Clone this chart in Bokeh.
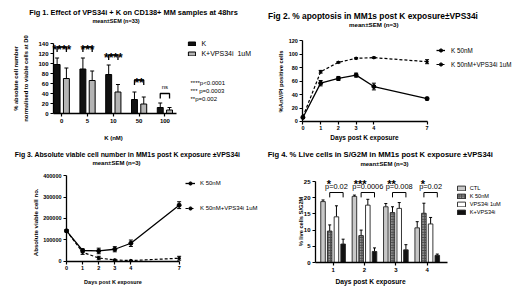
import numpy as np
from math import pi
from bokeh.plotting import figure
from bokeh.models import (Range1d, Label, Whisker, TeeHead, ColumnDataSource, FixedTicker,
                          Legend, LegendItem, BasicTickFormatter)
from bokeh.layouts import gridplot
from bokeh.embed import file_html
from bokeh.resources import INLINE

FONT = "Liberation Sans"

# ---------------- Fig 1 data ----------------
f1_doses = ["0", "5", "10", "50", "100"]
f1_k = [98, 89, 78, 28, 12]
f1_k_err = [13, 22, 19, 15, 9]
f1_kv = [70, 66, 43, 19, 7]
f1_kv_err = [21, 19, 15, 14, 5]
f1_sig = ["****", "***", "****", "**", "ns"]
f1_bracket = [133, 133, 117, 67, 40]
f1_pvals = ["****p<0.0001", "*** p=0.0003", "**p=0.002"]
f1_yticks = [0, 20, 40, 60, 80, 100, 120, 140]

# ---------------- Fig 2 data ----------------
f2_days = [0, 1, 2, 3, 4, 7]
f2_k = [6, 57, 64, 69, 52, 34]
f2_k_err = [1, 4, 3, 3, 5, 2]
f2_kv = [7, 74, 88, 94, 95, 89]
f2_kv_err = [1, 2, 1, 1, 1, 3]
f2_yticks = [0, 20, 40, 60, 80, 100, 120]

# ---------------- Fig 3 data ----------------
f3_days = [0, 1, 2, 3, 4, 7]
f3_k = [142000, 50000, 48000, 56000, 84000, 262000]
f3_k_err = [5000, 8000, 13000, 12000, 15000, 16000]
f3_kv = [142000, 42000, 15000, 6000, 3000, 14000]
f3_kv_err = [5000, 10000, 8000, 3000, 2000, 9000]
f3_yticks = [0, 100000, 200000, 300000, 400000]

# ---------------- Fig 4 data ----------------
f4_days = ["1", "2", "3", "4"]
f4_names = ["CTL", "K 50nM", "VPS34i 1uM", "K+VPS34i"]
f4_ctl = [18.8, 20.4, 17.2, 10.7]
f4_ctl_err = [0.5, 0.4, 1.0, 1.9]
f4_k = [9.7, 8.3, 15.4, 15.2]
f4_k_err = [1.9, 1.7, 1.8, 3.1]
f4_v = [14.1, 17.7, 16.7, 11.9]
f4_v_err = [3.4, 1.8, 1.8, 2.0]
f4_kv = [5.7, 3.4, 3.9, 2.2]
f4_kv_err = [1.5, 1.1, 1.6, 0.4]
f4_sig = ["*", "***", "**", "*"]
f4_p = ["p=0.02", "p=0.0006", "p=0.008", "p=0.02"]
f4_bracket = [21.6, 21.6, 21.6, 21.6]
f4_yticks = [0, 5, 10, 15, 20, 25]

W, H = 260, 146


class Geo:
    """Maps page pixels to data values; the plot frame fills the whole figure."""
    def __init__(self, ox, oy, pl, pt, fw, fh, xr, yr):
        self.ox, self.oy = ox, oy
        self.fl, self.ft, self.fw, self.fh, self.xr, self.yr = pl, pt, fw, fh, xr, yr

    def x(self, px):
        return self.xr[0] + (px - self.fl) / self.fw * (self.xr[1] - self.xr[0])

    def y(self, py):
        return self.yr[1] - (py - self.ft) / self.fh * (self.yr[1] - self.yr[0])

    def legend_loc(self, left, top, height):
        return (left - self.ox, (self.oy + H) - (top + height))


def make(ox, oy, pl, pt, fw, fh, xr, yr):
    g = Geo(ox, oy, pl, pt, fw, fh, xr, yr)
    p = figure(width=W, height=H,
               x_range=Range1d(g.x(ox), g.x(ox + W)),
               y_range=Range1d(g.y(oy + H), g.y(oy)),
               output_backend="svg", toolbar_location=None, title=None,
               min_border=0, min_border_left=0, min_border_top=0,
               min_border_right=0, min_border_bottom=0)
    p.outline_line_color = None
    p.xgrid.visible = False
    p.ygrid.visible = False
    p.background_fill_color = "white"
    p.border_fill_color = "white"
    return p, g


def style_axes(p, size, xticks, yticks, xloc, yloc, xb, yb, overrides=None):
    for ax in (p.xaxis[0], p.yaxis[0]):
        ax.axis_line_width = 1.3
        ax.axis_line_color = "black"
        ax.major_tick_line_width = 1.2
        ax.major_tick_line_color = "black"
        ax.major_tick_in = 0
        ax.major_tick_out = 3
        ax.minor_tick_line_color = None
        ax.major_label_text_font = FONT
        ax.major_label_text_font_size = f"{size}px"
        ax.major_label_text_font_style = "bold"
        ax.major_label_text_color = "black"
        ax.major_label_standoff = 2
    p.xaxis[0].ticker = FixedTicker(ticks=xticks)
    p.yaxis[0].ticker = FixedTicker(ticks=yticks)
    p.xaxis[0].fixed_location = xloc
    p.yaxis[0].fixed_location = yloc
    p.xaxis[0].bounds = xb
    p.yaxis[0].bounds = yb
    if overrides:
        p.xaxis[0].major_label_overrides = overrides


def txt(p, g, px, py, s, size, bold=False, align="center", angle=0.0):
    p.add_layout(Label(x=g.x(px), y=g.y(py), text=s, text_font=FONT,
                       text_font_size=f"{size}px",
                       text_font_style="bold" if bold else "normal",
                       text_align=align, text_baseline="middle", angle=angle,
                       text_color="black"))


def dlabel(p, x, y, s, size, bold=False):
    p.add_layout(Label(x=x, y=y, text=s, text_font=FONT, text_font_size=f"{size}px",
                       text_font_style="bold" if bold else "normal",
                       text_align="center", text_baseline="middle", text_color="black"))


def star(p, x, y, s, size):
    p.add_layout(Label(x=x, y=y, text=s, text_font=FONT, text_font_size=f"{size}px",
                       text_font_style="bold", text_align="center",
                       text_baseline="alphabetic", y_offset=-0.56 * size,
                       text_color="black"))


def whisk(p, base, val, err, both=False, head=4):
    lower = [v - e for v, e in zip(val, err)] if both else list(val)
    upper = [v + e for v, e in zip(val, err)]
    src = ColumnDataSource(dict(base=list(base), lower=lower, upper=upper))
    w = Whisker(source=src, base="base", lower="lower", upper="upper",
                line_color="black", line_width=1,
                upper_head=TeeHead(size=head, line_width=1, line_color="black"),
                lower_head=TeeHead(size=head, line_width=1, line_color="black") if both else None)
    p.add_layout(w)


def legend(p, items, loc, gw, gh, lh, spacing, standoff, size):
    lg = Legend(items=items, location=loc, padding=0, margin=0, spacing=spacing,
                glyph_width=gw, glyph_height=gh, label_height=lh,
                label_standoff=standoff, label_text_font=FONT,
                label_text_font_size=f"{size}px", label_text_color="black",
                border_line_color=None, background_fill_alpha=0)
    p.add_layout(lg)


# =============== Fig 1 ===============
f1_xr, f1_yr = (-0.32, 4.45), (0, 150)
p1, g1 = make(0, 0, 53, 38, 123, 75, f1_xr, f1_yr)
x1 = np.arange(len(f1_doses))
xk = x1 - 0.18
xv = x1 + 0.18
r1a = p1.vbar(x=xk, top=f1_k, width=0.23, fill_color="#111111", line_color="black", line_width=1)
r1b = p1.vbar(x=xv, top=f1_kv, width=0.23, fill_color="#b4b4b4", line_color="black", line_width=1)
whisk(p1, xk, f1_k, f1_k_err)
whisk(p1, xv, f1_kv, f1_kv_err)
p1.multi_line(xs=[[a, a, b, b] for a, b in zip(xk, xv)],
              ys=[[h - 10, h, h, h - 10] for h in f1_bracket],
              line_color="black", line_width=1.3)
for i, (s, h) in enumerate(zip(f1_sig, f1_bracket)):
    if s == "ns":
        dlabel(p1, x1[i], h + 13, s, 6)
    else:
        star(p1, x1[i], h + 8, s, 12)
style_axes(p1, 6, list(x1), f1_yticks, 0, f1_xr[0], f1_xr, (0, 140),
           {int(i): d for i, d in zip(x1, f1_doses)})
txt(p1, g1, 133, 12, "Fig 1. Effect of VPS34i + K on CD138+ MM samples at 48hrs", 7.4, True)
txt(p1, g1, 115.5, 20.7, "mean\u00b1SEM (n=33)", 5.5, True)
txt(p1, g1, 15.7, 78, "% absolute cell number", 5.8, True, angle=pi / 2)
txt(p1, g1, 25, 78, "normalised to viable cells at D0", 5.8, True, angle=pi / 2)
txt(p1, g1, 113, 137, "K (nM)", 6, True)
for j, s in enumerate(f1_pvals):
    txt(p1, g1, 190, 82.7 + 8 * j, s, 6, False, align="left")
legend(p1, [LegendItem(label="K", renderers=[r1a]), LegendItem(label="K+VPS34i  1uM", renderers=[r1b])],
       g1.legend_loc(187.4, 39.3, 18), 9, 5, 8, 2, 5, 7)

# =============== Fig 2 ===============
p2, g2 = make(260, 0, 298, 39, 133, 86, (-0.25, 7.25), (-6, 122))
l2a = p2.line(f2_days, f2_k, line_color="black", line_width=1.3)
s2a = p2.scatter(f2_days, f2_k, marker="circle", size=4, color="black")
l2b = p2.line(f2_days, f2_kv, line_color="black", line_width=1.2, line_dash="3 2")
s2b = p2.scatter(f2_days, f2_kv, marker="circle", size=2.5, color="black")
whisk(p2, f2_days, f2_k, f2_k_err, both=True)
whisk(p2, f2_days, f2_kv, f2_kv_err, both=True)
style_axes(p2, 5.5, f2_days, f2_yticks, 0, 0, (0, 7), (0, 120))
txt(p2, g2, 372.5, 15, "Fig 2. % apoptosis in MM1s post K exposure\u00b1VPS34i", 8.4, True)
txt(p2, g2, 373.3, 24, "mean\u00b1SEM (n=3)", 6.2, True)
txt(p2, g2, 280, 81, "%AnV/PI positive cells", 5.8, True, angle=pi / 2)
txt(p2, g2, 364, 136.7, "Days post K exposure", 6.5, True)
legend(p2, [LegendItem(label="K 50nM", renderers=[l2a, s2a]),
            LegendItem(label="K 50nM+VPS34i 1uM", renderers=[l2b, s2b])],
       g2.legend_loc(436, 46, 22), 9, 8, 8, 6, 6, 6.3)

# =============== Fig 3 ===============
p3, g3 = make(0, 146, 62, 173, 121, 92, (-0.25, 7.27), (-20000, 410000))
l3a = p3.line(f3_days, f3_k, line_color="black", line_width=1.3)
s3a = p3.scatter(f3_days, f3_k, marker="circle", size=4, color="black")
l3b = p3.line(f3_days, f3_kv, line_color="black", line_width=1.2, line_dash="3 2")
s3b = p3.scatter(f3_days, f3_kv, marker="circle", size=2.5, color="black")
whisk(p3, f3_days, f3_k, f3_k_err, both=True)
whisk(p3, f3_days, f3_kv, f3_kv_err, both=True)
style_axes(p3, 5.5, f3_days, f3_yticks, 0, 0, (0, 7), (0, 400000))
p3.yaxis[0].formatter = BasicTickFormatter(use_scientific=False)
txt(p3, g3, 127, 154.3, "Fig 3. Absolute viable cell number in MM1s post K exposure \u00b1VPS34i", 6.9, True)
txt(p3, g3, 116, 162.7, "mean\u00b1SEM (n=3)", 6.0, True)
txt(p3, g3, 35, 221.8, "Absolute viable cell no.", 6.1, True, angle=pi / 2)
txt(p3, g3, 112.5, 281, "Days post K exposure", 5.5, True)
legend(p3, [LegendItem(label="K 50nM", renderers=[l3a, s3a]),
            LegendItem(label="K 50nM+VPS34i 1uM", renderers=[l3b, s3b])],
       g3.legend_loc(185, 179.3, 33), 10, 8, 8, 17, 5, 6)

# =============== Fig 4 ===============
f4_xr, f4_yr = (0.44, 4.645), (0, 25)
p4, g4 = make(260, 146, 315, 181, 132, 81, f4_xr, f4_yr)
x4 = np.arange(1, len(f4_days) + 1)
offs = [-0.32, -0.107, 0.107, 0.32]
bw = 0.145
styles = [dict(fill_color="#c8c8c8"),
          dict(fill_color="#4a4a4a", hatch_pattern="dot", hatch_color="white", hatch_scale=2.6, hatch_weight=1.3),
          dict(fill_color="white"),
          dict(fill_color="#111111")]
vals = [f4_ctl, f4_k, f4_v, f4_kv]
errs = [f4_ctl_err, f4_k_err, f4_v_err, f4_kv_err]
rs4 = []
for o, st, v, e in zip(offs, styles, vals, errs):
    r = p4.vbar(x=x4 + o, top=v, width=bw, line_color="#222222", line_width=0.9, **st)
    rs4.append(r)
    whisk(p4, x4 + o, v, e, head=3)
xb0 = x4 + offs[1]
xb1 = x4 + offs[3]
p4.multi_line(xs=[[a, a, b, b] for a, b in zip(xb0, xb1)],
              ys=[[h - 1.5, h, h, h - 1.5] for h in f4_bracket],
              line_color="black", line_width=1)
for i in range(len(f4_days)):
    dlabel(p4, (xb0[i] + xb1[i]) / 2, f4_bracket[i] + 1.9, f4_p[i], 7.4)
    star(p4, xb0[i] - 0.03, g4.y(177.3), f4_sig[i], 11)
style_axes(p4, 6, list(x4), f4_yticks, 0, f4_xr[0], f4_xr, (0, 25),
           {int(i): d for i, d in zip(x4, f4_days)})
txt(p4, g4, 379.8, 154.3, "Fig 4. % Live cells in S/G2M in MM1s post K exposure \u00b1VPS34i", 7.6, True)
txt(p4, g4, 384, 163.3, "mean\u00b1SEM (n=3)", 6.0, True)
txt(p4, g4, 300, 221, "% live cells S/G2M", 5.7, True, angle=pi / 2)
txt(p4, g4, 370, 281, "Days post K exposure", 6.7, True)
legend(p4, [LegendItem(label=n, renderers=[r]) for n, r in zip(f4_names, rs4)],
       g4.legend_loc(455.7, 183.7, 32), 10, 6, 8, 0, 4, 5.6)

grid = gridplot([[p1, p2], [p3, p4]], toolbar_location=None)
open("out.html", "w").write(file_html(grid, INLINE))
